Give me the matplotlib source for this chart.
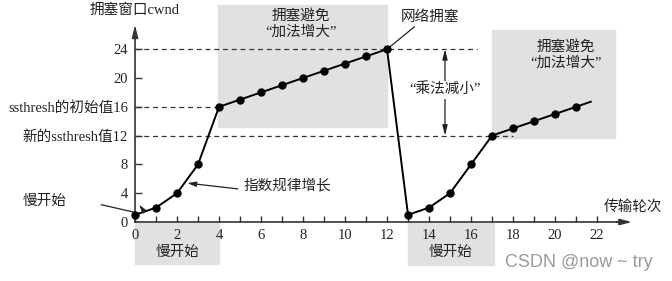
import matplotlib.pyplot as plt
from matplotlib.patches import Rectangle

# transmission rounds and congestion window
rounds = list(range(22))
cwnd = [1, 2, 4, 8, 16, 17, 18, 19, 20, 21, 22, 23, 24,
        1, 2, 4, 8, 12, 13, 14, 15, 16]

x_ticks = list(range(0, 23, 2))
y_ticks = [0, 4, 8, 12, 16, 20, 24]
y_labels = ['0', '4', '8', '新的ssthresh值12', 'ssthresh的初始值16', '20', '24']

ssthresh_init = 16
ssthresh_new = 12
peak = 24

CJK = ['Liberation Serif', 'Noto Sans CJK SC']
TXT = '#222222'
GRAY = '#e1e1e1'

fig = plt.figure(figsize=(6.72, 2.81), dpi=100)
ax = fig.add_axes([0, 0, 1, 1])
ax.set_xlim(-6.43, 25.57)
ax.set_ylim(-8.19, 30.83)

# axes through origin
for s in ['top', 'right']:
    ax.spines[s].set_visible(False)
ax.spines['left'].set_position(('data', 0))
ax.spines['bottom'].set_position(('data', 0))
ax.spines['left'].set_bounds(0, 27.0)
ax.spines['bottom'].set_bounds(0, 23.2)
for s in ['left', 'bottom']:
    ax.spines[s].set_linewidth(1.2)
    ax.spines[s].set_color('#333333')
ax.annotate('', xy=(0, 27.7), xytext=(0, 26.0),
            arrowprops=dict(arrowstyle='-|>,head_length=0.7,head_width=0.18',
                            color='#333333', lw=1.2))
ax.annotate('', xy=(23.8, 0), xytext=(22.8, 0),
            arrowprops=dict(arrowstyle='-|>,head_length=0.7,head_width=0.18',
                            color='#333333', lw=1.2))

ax.set_xticks(x_ticks)
ax.set_xticks(range(0, 23), minor=True)
ax.set_xticklabels([str(t) for t in x_ticks], family=CJK, fontsize=10.5, color=TXT)
ax.set_yticks(y_ticks)
ax.set_yticklabels(y_labels, family=CJK, fontsize=10.5, color=TXT)
ax.tick_params(axis='x', which='both', direction='in', length=4, width=1, pad=5,
               color='#333333')
ax.tick_params(axis='y', direction='in', length=5, width=1, pad=5, color='#333333')
ax.yaxis.get_major_ticks()[0].tick1line.set_visible(False)

# shaded phases
ax.add_patch(Rectangle((3.95, 13.2), 8.05, 16.9, color=GRAY, zorder=0))
ax.add_patch(Rectangle((17.0, 11.7), 5.85, 15.0, color=GRAY, zorder=0))
ax.add_patch(Rectangle((0, -5.8), 4.0, 5.7, color=GRAY, zorder=0))
ax.add_patch(Rectangle((13.0, -5.9), 4.1, 5.8, color=GRAY, zorder=0))

# threshold dashed lines
dash = dict(color='#333333', lw=0.9, linestyle=(0, (4, 3)), zorder=1)
ax.plot([0, 16.3], [peak, peak], **dash)
ax.plot([0, 4], [ssthresh_init, ssthresh_init], **dash)
ax.plot([0, 18.0], [ssthresh_new, ssthresh_new], **dash)

# cwnd curve
ax.plot(rounds, cwnd, color='black', lw=1.4, marker='o', markersize=5, zorder=3,
        clip_on=False)
slope = cwnd[-1] - cwnd[-2]
ax.plot([rounds[-1], rounds[-1] + 0.7], [cwnd[-1], cwnd[-1] + 0.7 * slope],
        color='black', lw=1.4, zorder=3)

# texts
ax.text(0, 29.4, '拥塞窗口cwnd', family=CJK, fontsize=10.5, color=TXT,
        ha='center', va='center')
ax.text(23.7, 2.1, '传输轮次', family=CJK, fontsize=10.5, color=TXT,
        ha='center', va='center')
ax.text(7.9, 27.5, '拥塞避免\n“加法增大”', family=CJK, fontsize=10.5, color=TXT,
        ha='center', va='center', linespacing=1.15)
ax.text(20.5, 23.1, '拥塞避免\n“加法增大”', family=CJK, fontsize=10.5, color=TXT,
        ha='center', va='center', linespacing=1.15)
ax.text(2.0, -4.2, '慢开始', family=CJK, fontsize=10.5, color=TXT,
        ha='center', va='center')
ax.text(15.0, -4.2, '慢开始', family=CJK, fontsize=10.5, color=TXT,
        ha='center', va='center')

ax.text(14.05, 28.5, '网络拥塞', family=CJK, fontsize=10.5, color=TXT,
        ha='center', va='center')
ax.plot([rounds[12], 13.3], [cwnd[12], 27.1], color='#222222', lw=0.9)

ax.annotate('', xy=(14.76, peak), xytext=(14.76, ssthresh_new),
            arrowprops=dict(arrowstyle='<|-|>,head_length=0.6,head_width=0.15',
                            color='#222222', lw=0.9, shrinkA=0, shrinkB=0))
ax.text(14.76, 18.3, '“乘法减小”', family=CJK, fontsize=10.5, color=TXT,
        ha='center', va='center',
        bbox=dict(facecolor='white', edgecolor='none', pad=1.5))

ax.text(-4.3, 2.8, '慢开始', family=CJK, fontsize=10.5, color=TXT,
        ha='center', va='center')
ax.plot([-1.6, 0.05], [2.4, 1.3], color='#222222', lw=0.9)
ax.annotate('', xy=(0.12, 2.7), xytext=(0.4, 1.6),
            arrowprops=dict(arrowstyle='-|>,head_length=0.5,head_width=0.15',
                            color='#222222', lw=0.8))

ax.text(5.15, 5.0, '指数规律增长', family=CJK, fontsize=10.5, color=TXT,
        ha='left', va='center')
ax.annotate('', xy=(2.5, 5.4), xytext=(4.9, 4.6),
            arrowprops=dict(arrowstyle='-|>,head_length=0.5,head_width=0.15',
                            color='#222222', lw=0.9, shrinkA=0, shrinkB=0))

ax.text(17.6, -5.6, 'CSDN @now ~ try', family='Liberation Sans', fontsize=13,
        color='#9a9a9a', ha='left', va='center')

fig.savefig('out.png', dpi=100)
